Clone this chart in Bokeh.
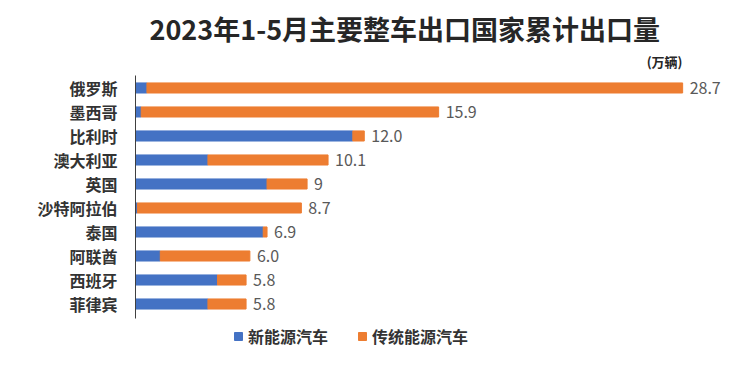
from bokeh.plotting import figure
from bokeh.models import ColumnDataSource, Range1d, Label, LabelSet, Legend, LegendItem, FixedTicker
from bokeh.core.properties import value
from bokeh.embed import file_html
from bokeh.resources import INLINE

countries = ["俄罗斯", "墨西哥", "比利时", "澳大利亚", "英国", "沙特阿拉伯", "泰国", "阿联酋", "西班牙", "菲律宾"]
totals = [28.7, 15.9, 12.0, 10.1, 9, 8.7, 6.9, 6.0, 5.8, 5.8]
total_labels = ["28.7", "15.9", "12.0", "10.1", "9", "8.7", "6.9", "6.0", "5.8", "5.8"]
nev = [0.6, 0.3, 11.4, 3.8, 6.9, 0.1, 6.7, 1.3, 4.3, 3.8]
ice = [round(t - n, 2) for t, n in zip(totals, nev)]
series_names = ["新能源汽车", "传统能源汽车"]
title_text = "2023年1-5月主要整车出口国家累计出口量"
unit_text = "(万辆)"

BLUE = "#4472C4"
ORANGE = "#ED7D31"
FONT = "Noto Sans CJK SC"

n = len(countries)
ypos = [n - 1 - i for i in range(n)]  # first category on top

src = ColumnDataSource(dict(y=ypos, nev=nev, ice=ice, total=totals, lab=total_labels))

shift = 8.5 / 24.0
p = figure(width=726, height=349, output_backend="svg", toolbar_location=None,
           x_range=Range1d(0, 31.0), y_range=Range1d(-2.25 + shift, 12.29 + shift),
           min_border_left=135, min_border_right=0, min_border_top=0, min_border_bottom=0)
p.outline_line_color = None
p.xgrid.grid_line_color = None
p.ygrid.grid_line_color = None
p.xaxis.visible = False
p.background_fill_color = "white"
p.border_fill_color = "white"

rs = p.hbar_stack(["nev", "ice"], y="y", height=0.42, color=[BLUE, ORANGE], source=src)

p.yaxis.ticker = FixedTicker(ticks=ypos)
p.yaxis.major_label_overrides = {y: c for y, c in zip(ypos, countries)}
p.yaxis.bounds = (-0.6, n - 0.5)
p.yaxis.major_tick_line_color = None
p.yaxis.minor_tick_line_color = None
p.yaxis.major_tick_out = 0
p.yaxis.major_tick_in = 0
p.yaxis.axis_line_color = "#404040"
p.yaxis.axis_line_width = 1
p.yaxis.major_label_standoff = 18
p.yaxis.major_label_text_font = FONT
p.yaxis.major_label_text_font_size = "16px"
p.yaxis.major_label_text_font_style = "bold"
p.yaxis.major_label_text_color = "#333333"

labels = LabelSet(x="total", y="y", text="lab", source=src, x_offset=7,
                  text_baseline="middle", text_font=value(FONT), text_font_size=value("16px"),
                  text_color="#595959")
p.add_layout(labels)

p.add_layout(Label(x=14, y=357 - 36, x_units="screen", y_units="screen", text=title_text,
                   text_font=FONT, text_font_size="27px", text_font_style="bold",
                   text_color="#262626", text_baseline="middle"))
p.add_layout(Label(x=547, y=357 - 69, x_units="screen", y_units="screen", text=unit_text,
                   text_font=FONT, text_font_size="13px", text_font_style="bold",
                   text_color="#262626", text_baseline="middle", text_align="right"))

legend = Legend(items=[LegendItem(label=series_names[0], renderers=[rs[0]]),
                       LegendItem(label=series_names[1], renderers=[rs[1]])],
                location=(98, 1), orientation="horizontal",
                glyph_width=10, glyph_height=10, label_standoff=5, spacing=29,
                padding=0, margin=0, border_line_color=None, background_fill_alpha=0,
                label_text_font=FONT, label_text_font_size="16px",
                label_text_font_style="bold", label_text_color="#333333")
p.add_layout(legend, "center")

open("out.html", "w").write(file_html(p, INLINE))
